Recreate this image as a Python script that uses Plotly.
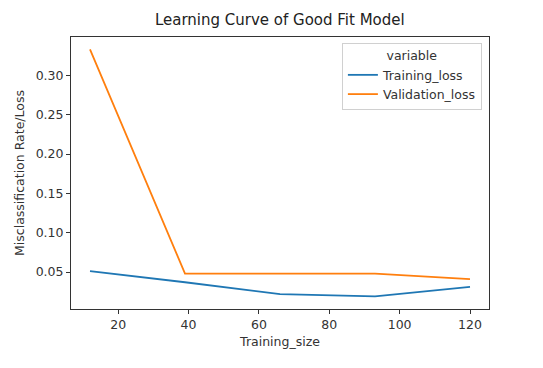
import plotly.graph_objects as go

training_size = [12, 39, 66, 93, 120]
training_loss = [0.051, 0.037, 0.022, 0.019, 0.031]
validation_loss = [0.333, 0.048, 0.048, 0.048, 0.041]
y_ticks = [0.05, 0.10, 0.15, 0.20, 0.25, 0.30]
x_ticks = [20, 40, 60, 80, 100, 120]

font = "DejaVu Sans"
fs = 12.5
fig = go.Figure()
fig.add_trace(go.Scatter(x=training_size, y=training_loss, mode="lines",
                         name="Training_loss", line=dict(color="#1f77b4", width=1.8)))
fig.add_trace(go.Scatter(x=training_size, y=validation_loss, mode="lines",
                         name="Validation_loss", line=dict(color="#ff7f0e", width=1.8)))

axis_common = dict(showgrid=False, zeroline=False, showline=True, linecolor="#333333",
                   linewidth=1, mirror=True, ticks="outside", ticklen=4, tickwidth=1,
                   tickcolor="#333333", tickfont=dict(family=font, size=fs, color="#333333"))
# page body has an 8px margin, so the figure is 8px smaller in each direction
fig.update_layout(
    width=535, height=360,
    margin=dict(l=63, r=54, t=29, b=59),
    paper_bgcolor="white", plot_bgcolor="white",
    font=dict(family=font, size=fs, color="#333333"),
    title=dict(text="Learning Curve of Good Fit Model", x=0.508, xanchor="center",
               y=0.967, yanchor="middle", font=dict(family=font, size=15, color="#222222")),
    xaxis=dict(range=[6.6, 125.4], tickvals=x_ticks, ticktext=[str(v) for v in x_ticks],
               title=dict(text="Training_size", font=dict(family=font, size=fs), standoff=6),
               **axis_common),
    yaxis=dict(range=[0.003, 0.3487], tickvals=y_ticks, ticktext=[f"{v:.2f}" for v in y_ticks],
               title=dict(text="Misclassification Rate/Loss", font=dict(family=font, size=fs), standoff=8),
               **axis_common),
    legend=dict(x=0.983, y=0.978, xanchor="right", yanchor="top",
                bordercolor="#d0d0d0", borderwidth=1, bgcolor="rgba(255,255,255,0.8)",
                font=dict(family=font, size=fs, color="#333333"),
                title=dict(text="variable", side="top center", font=dict(family=font, size=fs)),
                tracegroupgap=0, itemwidth=30),
    showlegend=True,
)
fig.write_html("out.html")
